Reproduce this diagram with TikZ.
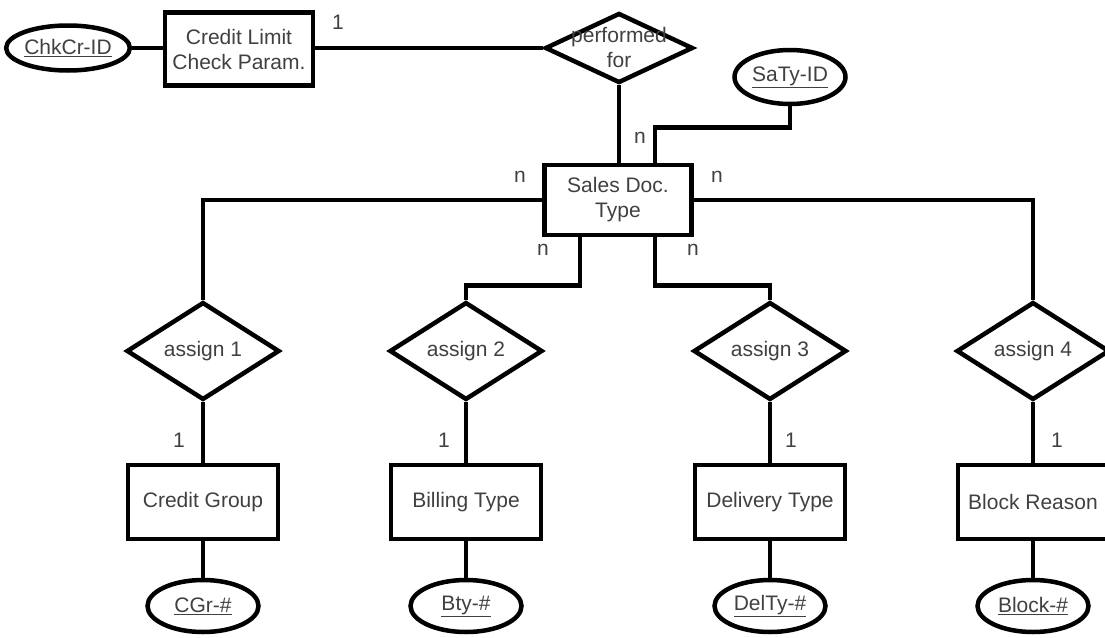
\documentclass[tikz,border=0pt]{standalone}
\usepackage{fontspec}
\setmainfont{Liberation Sans}
\usetikzlibrary{shapes.geometric}
\begin{document}
\begin{tikzpicture}[x=1pt,y=-1pt,
 every node/.style={font=\fontsize{21}{25}\selectfont, text=black!75, align=center},
 ln/.style={line width=4.5pt, draw=black},
 ent/.style={draw=black, line width=4.5pt, rectangle, minimum width=150pt, minimum height=74pt, inner sep=0pt},
 rel/.style={draw=black, line width=4.5pt, diamond, minimum width=153pt, minimum height=72pt, inner sep=0pt},
 attr/.style={draw=black, line width=4.5pt, ellipse, minimum width=111pt, minimum height=50pt, inner sep=0pt},
 lbl/.style={inner sep=0pt}
]
\useasboundingbox (0,0) rectangle (1105,637);
\clip (0,0) rectangle (1105,637);

% top row
\node[attr, minimum height=45pt] (chk) at (68,48) {\underline{ChkCr-ID}};
\node[ent, minimum width=148pt, minimum height=73pt] (clc) at (239,49) {Credit Limit\\Check Param.};
\node[rel, minimum width=148pt, minimum height=70pt] (perf) at (619,48) {};
\node[lbl] (perft) at (619,47) {performed\\for};
\node[attr, minimum height=54pt] (saty) at (790,77) {\underline{SaTy-ID}};
\node[ent, minimum width=147pt, minimum height=70pt] (sdt) at (618,200) {Sales Doc.\\Type};

% relationships
\node[rel] (a1) at (203,351) {assign 1};
\node[rel] (a2) at (466,351) {assign 2};
\node[rel] (a3) at (770,351) {assign 3};
\node[rel] (a4) at (1033,351) {assign 4};

% entities
\node[ent] (b1) at (203,502) {Credit Group};
\node[ent] (b2) at (466,502) {Billing Type};
\node[ent] (b3) at (770,502) {Delivery Type};
\node[ent] (b4) at (1033,502) {Block Reason};

% attributes
\node[attr, minimum height=52pt] (e1) at (203,606) {\underline{CGr-\#}};
\node[attr, minimum height=52pt] (e2) at (466,606) {\underline{Bty-\#}};
\node[attr, minimum height=52pt] (e3) at (770,606) {\underline{DelTy-\#}};
\node[attr, minimum height=52pt] (e4) at (1033,606) {\underline{Block-\#}};

% connectors
\draw[ln] (chk.east) -- (chk.east -| clc.west);
\draw[ln] (perf.west -| clc.east) -- (perf.west);
\draw[ln] (perf.south) -- (perf.south |- sdt.north);
\draw[ln] (saty.south) -- ++(0,21) -| ([xshift=37pt]sdt.north);
\draw[ln] (sdt.west) -| (a1.north);
\draw[ln] (sdt.east) -| (a4.north);
\draw[ln] ([xshift=-38pt]sdt.south) -- ++(0,48) -| (a2.north);
\draw[ln] ([xshift=37pt]sdt.south) -- ++(0,48) -| (a3.north);
\foreach \i in {1,2,3,4}{
  \draw[ln] (a\i.south) -- (b\i.north);
  \draw[ln] (b\i.south) -- (e\i.north);
}

% cardinalities
\node[lbl] (c0) at (338,22) {1};
\node[lbl] (n0) at (640,138) {n};
\node[lbl] (n1) at (520,177) {n};
\node[lbl] (n2) at (717,177) {n};
\node[lbl] (n3) at (543,250) {n};
\node[lbl] (n4) at (693,250) {n};
\node[lbl] (c1) at (179,440) {1};
\node[lbl] (c2) at (444,440) {1};
\node[lbl] (c3) at (791,440) {1};
\node[lbl] (c4) at (1057,440) {1};
\end{tikzpicture}
\end{document}
